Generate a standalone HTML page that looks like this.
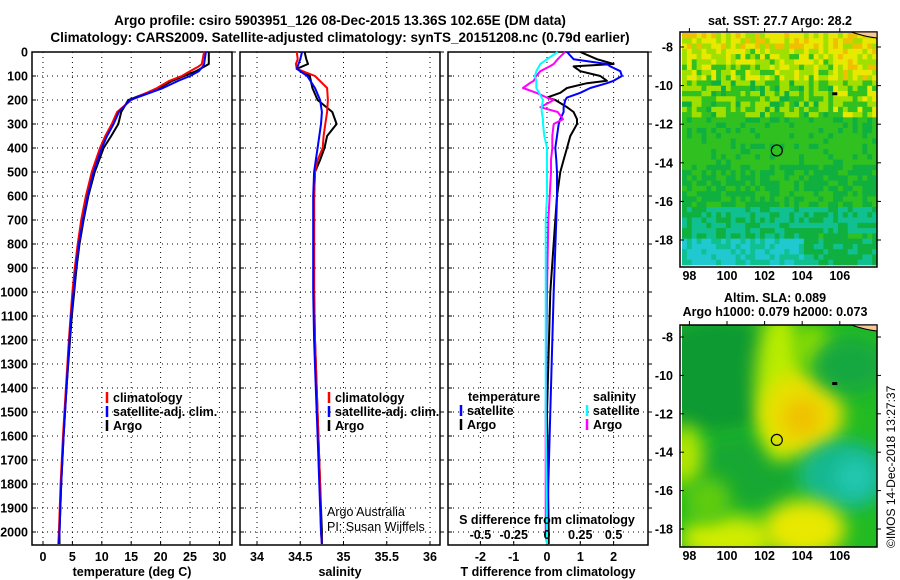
<!DOCTYPE html>
<html><head><meta charset="utf-8"><style>
html,body{margin:0;padding:0;background:#fff;}
svg{display:block;font-family:"Liberation Sans",sans-serif;}
.t{font-size:12.5px;font-weight:bold;fill:#000;}
.tt{font-size:13.5px;font-weight:bold;fill:#000;}
</style></head><body>
<svg id="fig" width="900" height="580" viewBox="0 0 900 580" xmlns="http://www.w3.org/2000/svg">
<defs>
<filter id="blur" x="-50%" y="-50%" width="200%" height="200%"><feGaussianBlur stdDeviation="9"/></filter>
<clipPath id="clipB"><rect x="682" y="325" width="195" height="222"/></clipPath>
</defs>
<text class="tt" x="340" y="25" text-anchor="middle">Argo profile: csiro 5903951_126 08-Dec-2015 13.36S 102.65E (DM data)</text>
<text class="tt" x="340" y="42" text-anchor="middle">Climatology: CARS2009. Satellite-adjusted climatology: synTS_20151208.nc (0.79d earlier)</text>
<g id="panels"></g>
<g id="maps"></g>
<text class="t" x="0" y="0" transform="translate(895,548) rotate(-90)" style="font-weight:normal;font-size:12px">©IMOS 14-Dec-2018 13:27:37</text>
</svg>
<script>
// ---- data ----
const depthTicks=[0,100,200,300,400,500,600,700,800,900,1000,1100,1200,1300,1400,1500,1600,1700,1800,1900,2000];
const tempTicks=[0,5,10,15,20,25,30];
const salTicks=[34,34.5,35,35.5,36];
const tdiffTicks=[-2,-1,0,1,2];
const sdiffTicks=[-0.5,-0.25,0,0.25,0.5];
const sdiffTickLabels=["-0.5","-0.25","0","0.25","0.5"];

const tDepth=[0,50,60,80,100,120,150,200,250,300,350,400,500,600,700,800,900,1000,1100,1200,1400,1600,1800,2000,2050];
const tClim=[27.4,27.0,26.5,25,23.6,21.5,19.4,15,12.6,11.7,10.6,9.7,8.3,7.3,6.5,5.9,5.4,5.0,4.7,4.4,3.9,3.4,3.0,2.7,2.6];
const tSat=[27.7,27.4,27.2,26.5,25,23,20.4,14.8,12.9,12.0,10.9,10.0,8.6,7.6,6.8,6.1,5.6,5.2,4.8,4.5,4.0,3.5,3.1,2.8,2.7];
const tArgo=[28.2,28.2,27.5,26,24,22,19.8,14.5,13.3,12.8,11.6,10.3,8.8,7.7,6.9,6.2,5.7,5.3,4.9,4.6,4.0,3.5,3.1,2.8,2.8];

const sDepth=[0,30,50,70,100,150,200,250,300,350,400,450,500,600,800,1000,1200,1400,1600,1800,2000,2050];
const sClim=[34.46,34.47,34.45,34.46,34.67,34.81,34.82,34.81,34.79,34.77,34.76,34.70,34.67,34.66,34.66,34.66,34.67,34.69,34.71,34.73,34.74,34.75];
const sSat=[34.52,34.50,34.48,34.46,34.58,34.67,34.73,34.75,34.74,34.72,34.70,34.68,34.66,34.65,34.65,34.65,34.66,34.68,34.70,34.72,34.74,34.75];
const sArgo=[34.55,34.57,34.59,34.46,34.61,34.64,34.70,34.87,34.92,34.81,34.78,34.73,34.67,34.66,34.66,34.66,34.67,34.69,34.71,34.73,34.75,34.75];

const dDepth=[0,30,50,60,80,100,120,130,150,170,190,200,230,250,280,300,350,400,450,500,600,700,1000,1500,2000,2050];
const tDiffArgo=[1.0,1.5,2.0,0.8,1.0,1.6,1.8,1.2,0.6,0.4,0,0.25,0.6,0.8,0.9,0.9,0.7,0.6,0.5,0.4,0.3,0.25,0.1,0.0,0.05,0.05];
const tDiffSat=[0.6,0.8,1.8,1.9,2.2,2.25,2.0,1.8,1.3,1.0,0.6,0.55,0.5,0.5,0.4,0.35,0.3,0.25,0.28,0.3,0.3,0.28,0.2,0.1,0.0,0.0];
const sDiffArgo=[0.135,0.08,0.05,0.02,-0.05,-0.08,-0.1,-0.13,-0.18,-0.08,0.0,0.05,-0.05,0.08,0.12,0.05,0.04,0.04,0.03,0.03,0.02,0.01,0.0,-0.01,-0.01,0];
const sDiffSat=[0.08,0,-0.05,-0.06,-0.08,-0.09,-0.08,-0.08,-0.08,-0.06,-0.04,-0.03,-0.04,-0.04,-0.03,-0.03,-0.02,0,0,0,0,-0.01,-0.01,-0.01,0,0];

const latTicks=[-8,-10,-12,-14,-16,-18];
const lonTicks=[98,100,102,104,106];
const floatPos=[102.65,-13.36];

// ---- helpers ----
const NS="http://www.w3.org/2000/svg";
function mk(tag,attrs,parent){const e=document.createElementNS(NS,tag);for(const k in attrs)e.setAttribute(k,attrs[k]);parent.appendChild(e);return e;}
const P=document.getElementById('panels');
const Y=d=>52+d*0.24;
const TOP=52,BOT=545;
const xT=v=>43+v*5.88;
const xS=v=>257+(v-34)*86.5;
const xTD=v=>547+v*33.3;
const xSD=v=>547+v*133.2;

function frame(x0,x1,name,xfun,ticks,labels,title){
  const g=mk('g',{},P);
  
  
  // grid
  depthTicks.forEach(d=>{const l=mk('line',{x1:x0,x2:x1,y1:Y(d),y2:Y(d),stroke:'#000','stroke-width':1,'stroke-dasharray':'1,4'},g);
    
    const tk=mk('line',{x1:x0,x2:x0+4,y1:Y(d),y2:Y(d),stroke:'#000'},g);
    
    const tk2=mk('line',{x1:x1,x2:x1+4,y1:Y(d),y2:Y(d),stroke:'#000'},g);
    });
  ticks.forEach((v,i)=>{const x=xfun(v);
    const l=mk('line',{x1:x,x2:x,y1:TOP,y2:BOT,stroke:'#000','stroke-width':1,'stroke-dasharray':'1,4'},g);
    
    const tk=mk('line',{x1:x,x2:x,y1:BOT,y2:BOT-4,stroke:'#000'},g);
    
    const t=mk('text',{x:x,y:561,'text-anchor':'middle',class:'t'},g);t.textContent=labels[i];
    });
  const r=mk('rect',{x:x0,y:TOP,width:x1-x0,height:BOT-TOP,fill:'none',stroke:'#000','stroke-width':1.5},g);
  
  const tt=mk('text',{x:(x0+x1)/2,y:576,'text-anchor':'middle',class:'t'},g);tt.textContent=title;
  
  return g;
}
function line(g,depths,vals,xf,color,name,w){
  const pts=depths.map((d,i)=>xf(vals[i]).toFixed(1)+','+Y(d).toFixed(1)).join(' ');
  const p=mk('polyline',{points:pts,fill:'none',stroke:color,'stroke-width':w||2,'stroke-linejoin':'round'},g);
  
}
function legend(g,x,y,color,label,name){
  const m=mk('line',{x1:x,x2:x,y1:y-10,y2:y+1,stroke:color,'stroke-width':2.5},g);
  
  const t=mk('text',{x:x+6,y:y,class:'t'},g);t.textContent=label;
  
}
// depth labels
depthTicks.forEach(d=>{const t=mk('text',{x:28,y:Y(d)+4.5,'text-anchor':'end',class:'t'},P);t.textContent=d;
  });

// panel 1
const g1=frame(32,232,'temperature-panel',xT,tempTicks,tempTicks.map(String),'temperature (deg C)');
line(g1,tDepth,tArgo,xT,'#000','temp-argo-line');
line(g1,tDepth,tClim,xT,'#f00','temp-climatology-line');
line(g1,tDepth,tSat,xT,'#00f','temp-satellite-line');
legend(g1,107,402,'#f00','climatology','legend-climatology');
legend(g1,107,416,'#00f','satellite-adj. clim.','legend-satellite');
legend(g1,107,430,'#000','Argo','legend-argo');

// panel 2
const g2=frame(240,440,'salinity-panel',xS,salTicks,salTicks.map(String),'salinity');
line(g2,sDepth,sArgo,xS,'#000','sal-argo-line');
line(g2,sDepth,sClim,xS,'#f00','sal-climatology-line');
line(g2,sDepth,sSat,xS,'#00f','sal-satellite-line');
legend(g2,329,402,'#f00','climatology','legend-climatology');
legend(g2,329,416,'#00f','satellite-adj. clim.','legend-satellite');
legend(g2,329,430,'#000','Argo','legend-argo');
[['Argo Australia',516,'credit-argo-australia'],['PI: Susan Wijffels',531,'credit-pi']].forEach(a=>{
  const t=mk('text',{x:327,y:a[1],style:'font-size:12.5px;fill:#000'},g2);t.textContent=a[0];
  });

// panel 3
const g3=frame(448,648,'difference-panel',xTD,tdiffTicks,tdiffTicks.map(String),'T difference from climatology');
line(g3,dDepth,tDiffArgo,xTD,'#000','tdiff-argo-line');
line(g3,dDepth,tDiffSat,xTD,'#00f','tdiff-satellite-line');
line(g3,dDepth,sDiffArgo,xSD,'#f0f','sdiff-argo-line');
line(g3,dDepth,sDiffSat,xSD,'#0ff','sdiff-satellite-line');
{const t=mk('text',{x:468,y:401,class:'t'},g3);t.textContent='temperature';}
{const t=mk('text',{x:593,y:401,class:'t'},g3);t.textContent='salinity';}
legend(g3,461,415,'#00f','satellite','legend-t-satellite');
legend(g3,461,429,'#000','Argo','legend-t-argo');
legend(g3,587,415,'#0ff','satellite','legend-s-satellite');
legend(g3,587,429,'#f0f','Argo','legend-s-argo');
{const t=mk('text',{x:547,y:524,'text-anchor':'middle',class:'t'},g3);t.textContent='S difference from climatology';}
sdiffTicks.forEach((v,i)=>{const t=mk('text',{x:xSD(v),y:539,'text-anchor':'middle',class:'t'},g3);t.textContent=sdiffTickLabels[i];
  });

// ---- maps ----
const M=document.getElementById('maps');
const lonX=v=>680+(v-97.5)*18.8;
function mapFrame(y0,y1,latY,name){
  const g=mk('g',{},M);
  
  const r=mk('rect',{x:680,y:y0,width:197,height:y1-y0,fill:'none',stroke:'#000','stroke-width':1.5},g);
  
  latTicks.forEach(v=>{const y=latY(v);
    const t=mk('text',{x:673,y:y+4.5,'text-anchor':'end',class:'t'},g);t.textContent=v;
    
    mk('line',{x1:680,x2:684,y1:y,y2:y,stroke:'#000'},g);
    mk('line',{x1:877,x2:881,y1:y,y2:y,stroke:'#000'},g);});
  lonTicks.forEach(v=>{const x=lonX(v);
    const t=mk('text',{x:x,y:y1+13,'text-anchor':'middle',class:'t'},g);t.textContent=v;
    
    mk('line',{x1:x,x2:x,y1:y0-4,y2:y0,stroke:'#000'},g);});
  const c=mk('circle',{cx:lonX(floatPos[0]),cy:latY(floatPos[1]),r:5.5,fill:'none',stroke:'#000','stroke-width':1.2},g);
  
  const isl=mk('rect',{x:lonX(105.6),y:latY(-10.45)-2,width:5,height:3,fill:'#000'},g);
  
  const land=mk('path',{d:`M${lonX(106.6)},${y0} Q${lonX(107.4)},${y0+5} ${877},${y0+6} L877,${y0} Z`,fill:'#f9c896',stroke:'#000','stroke-width':1},g);
  
  return g;
}
// SST map (decorative raster)
const latTop=v=>47+(-8-v)*19.3;
{
  const g=mk('g',{},M);
  
  const cols=40,rows=44,x0=682,y0=33,w=195/cols,h=232/rows;
  const base=[[0,'#d8e000'],[0.08,'#b0e000'],[0.2,'#70d000'],[0.35,'#30c020'],[0.55,'#18b830'],[0.75,'#10b848'],[0.85,'#10c0a0'],[1,'#20b8e0']];
  const pal=['#f0c000','#e8e800','#a0e000','#30c020','#10b040','#10c090','#20c8d0','#3090f0'];
  function hsh(i,j){let n=(i*374761393+j*668265263)>>>0;n=(n^(n>>>13))*1274126177>>>0;return (n%1000)/1000;}
  for(let j=0;j<rows;j++){
    const f=j/rows;
    let lvl= f<0.05?1.2: f<0.2?1.8: f<0.35?2.7: f<0.55?3.2: f<0.75?3.6: f<0.87?4.6:5.6;
    for(let i=0;i<cols;i++){
      let v=lvl+(hsh(i,j)-0.5)*(f<0.35?2.4:1.0);
      if(f<0.35 && i>cols*0.75) v-=0.6;
      if(f>0.85 && i>cols*0.6) v-=1.2;
      v=Math.max(0,Math.min(7,Math.round(v)));
      const r=mk('rect',{x:(x0+i*w).toFixed(2),y:(y0+j*h).toFixed(2),width:(w+0.4).toFixed(2),height:(h+0.4).toFixed(2),fill:pal[v]},g);
    }
  }
}
mapFrame(32,267,latTop,'sst-map');
{const t=mk('text',{x:780,y:25,'text-anchor':'middle',class:'t'},M);t.textContent='sat. SST: 27.7 Argo: 28.2';}

// SLA map
const latBot=v=>337+(-8-v)*19.2;
{
  const g=mk('g',{'clip-path':'url(#clipB)'},M);
  
  mk('rect',{x:682,y:325,width:195,height:222,fill:'#22bb22'},g);
  const blobs=[[99.5,-10,4,3,'#119a33'],[101,-15,3,2,'#14a830'],[102.8,-10.5,1.3,4,'#b8ec00'],[104,-12,2.2,2.2,'#e8e000'],[104,-12.2,1.0,1.0,'#f0c000'],
    [106.2,-15.2,2.4,1.8,'#18b890'],[106.8,-15.3,1.0,1.0,'#20c8b0'],[100,-18.5,2.5,1.2,'#d0ec00'],[104.1,-18,2.2,1.5,'#e8e800'],[97.8,-14.2,0.9,1.6,'#b8e600'],
    [104.6,-8.6,1.0,1.2,'#90dd00'],[99,-16.5,1.2,1.2,'#60cc10'],[106.5,-9.5,2,1.5,'#18a840']];
  blobs.forEach(b=>{const e=mk('ellipse',{cx:lonX(b[0]),cy:latBot(b[1]),rx:b[2]*18.8,ry:b[3]*19.2,fill:b[4],filter:'url(#blur)'},g);});
}
mapFrame(325,547,latBot,'sla-map');
{const t=mk('text',{x:775,y:302,'text-anchor':'middle',class:'t'},M);t.textContent='Altim. SLA: 0.089';}
{const t=mk('text',{x:775,y:316,'text-anchor':'middle',class:'t'},M);t.textContent='Argo h1000: 0.079 h2000: 0.073';}
</script>
</body></html>
